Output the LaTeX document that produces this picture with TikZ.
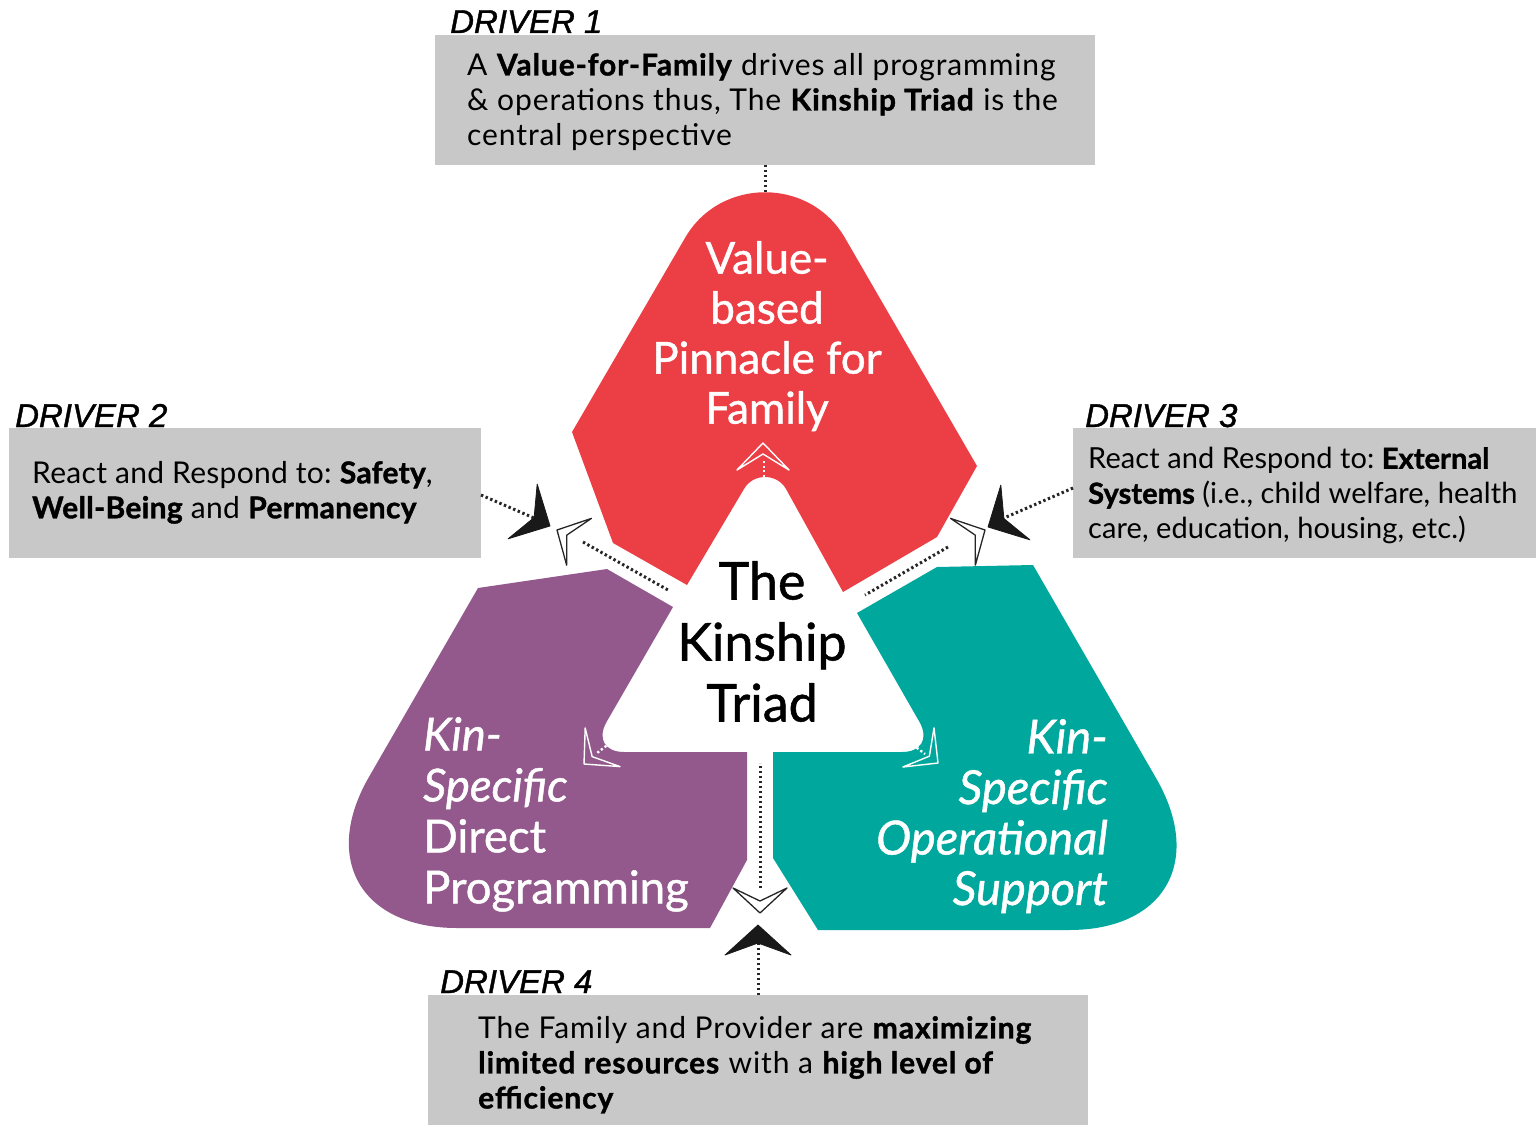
\documentclass[tikz,border=0pt]{standalone}
\usepackage{fontspec}
\setmainfont{Lato}[LetterSpace=3,BoldFeatures={FakeBold=1.3}]
\newfontfamily\drvfont{Liberation Sans}[FakeBold=1.2]
\newfontfamily\medfont{Lato}[FakeBold=1.0]
\usetikzlibrary{calc}
\definecolor{boxgray}{HTML}{C8C8C8}
\definecolor{tred}{HTML}{EC3F45}
\definecolor{tpurple}{HTML}{93598D}
\definecolor{tteal}{HTML}{00A79D}
\newcommand{\chevron}[6]{%
  \draw[#6] (#1) -- ($(#1)+(#2+180:#3)+(#2+90:#4)$) -- ($(#1)+(#2+180:#5)$)
    -- ($(#1)+(#2+180:#3)+(#2-90:#4)$) -- cycle;}
\begin{document}
\frenchspacing
\begin{tikzpicture}[x=1pt,y=-1pt,
  graybox/.style={fill=boxgray,draw=none,anchor=north west,inner sep=0pt},
  boxtext/.style={anchor=north west,align=left,inner sep=0pt,font=\fontsize{30}{35}\selectfont},
  drv/.style={anchor=base west,inner sep=0pt,font=\drvfont\itshape\fontsize{33}{33}\selectfont},
  shapetext/.style={inner sep=0pt,text=white,font=\medfont\fontsize{44}{50}\selectfont},
  dots/.style={line width=3pt,dash pattern=on 2.4pt off 2.6pt,black!85},
  wdots/.style={line width=2.4pt,dash pattern=on 2.2pt off 2.4pt,white},
  blackchev/.style={fill=black!90,draw=black!90,line width=0.8pt,line join=round},
  outchev/.style={fill=white,draw=black!85,line width=1.3pt,line join=round},
  whitechev/.style={draw=white,line width=1.4pt,line join=round}
]
\useasboundingbox (0,0) rectangle (1536,1124);
% --- three shapes ---
\fill[tred] (572,432) -- (613,543) -- (687,585) -- (744,489)
  .. controls (753,473) and (777,473) .. (786,489) -- (843,592) -- (937,537)
  -- (977,466) -- (845,238) .. controls (810,177) and (720,177) .. (685,238) -- cycle;
\fill[tpurple] (478,588) -- (607,569) -- (673,607) -- (606.5,722)
  .. controls (597,739) and (605,752) .. (624,752) -- (747,752) -- (747,860)
  -- (710,928) -- (457,928) .. controls (361,928) and (321,859) .. (369.5,776) -- cycle;
\fill[tteal] (857,613) -- (937,567) -- (1033,565) -- (1156,778)
  .. controls (1204,861) and (1165,930) .. (1069,930) -- (818,930) -- (773,858)
  -- (773,752) -- (902,752) .. controls (921,752) and (929,739) .. (919.5,722) -- cycle;
% --- shape texts ---
\node[shapetext,align=center,anchor=north] (redtxt) at (767,241) {Value-\\based\\Pinnacle for\\Family};
\node[shapetext,align=left,anchor=north west,font=\medfont\fontsize{45.5}{51}\selectfont] (purtxt) at (423,717) {\itshape Kin-\\\itshape Specific\\Direct\\Programming};
\node[shapetext,align=right,anchor=north east,font=\medfont\fontsize{47}{50.5}\selectfont] (teatxt) at (1108,719) {\itshape Kin-\\\itshape Specific\\\itshape Operational\\\itshape Support};
\node[inner sep=0pt,align=center,anchor=north,font=\medfont\fontsize{52}{61}\selectfont] (triad) at (762,561) {The\\Kinship\\Triad};
% --- driver boxes ---
\node[graybox,minimum width=660pt,minimum height=130pt] (b1) at (435,35) {};
\node[graybox,minimum width=472pt,minimum height=130pt] (b2) at (9,428) {};
\node[graybox,minimum width=463pt,minimum height=130pt] (b3) at (1073,428) {};
\node[graybox,minimum width=660pt,minimum height=130pt] (b4) at (428,995) {};
\node[drv] (d1) at (450,33) {DRIVER 1};
\node[drv] (d2) at (15,427) {DRIVER 2};
\node[drv] (d3) at (1085,427) {DRIVER 3};
\node[drv] (d4) at (440,993) {DRIVER 4};
\node[boxtext] (t1) at (467,53) {A \textbf{Value-for-Family} drives all programming\\\& operations thus, The \textbf{Kinship Triad} is the\\central perspective};
\node[boxtext,font=\fontsize{30}{35}\selectfont\addfontfeature{LetterSpace=1}] (t2) at (32,461) {React and Respond to: \textbf{Safety},\\\textbf{Well-Being} and \textbf{Permanency}};
\node[boxtext,font=\fontsize{29}{35}\selectfont\addfontfeature{LetterSpace=0.3}] (t3) at (1088,447) {React and Respond to: \textbf{External}\\\textbf{Systems} (i.e., child welfare, health\\care, education, housing, etc.)};
\node[boxtext] (t4) at (478,1016) {The Family and Provider are \textbf{maximizing}\\\textbf{limited resources} with a \textbf{high level of}\\\textbf{efficiency}};
% --- coordinates for connectors ---
\coordinate (redtop) at (765,192);
\coordinate (b1s) at (765,165);
\coordinate (b2e) at (481,495);
\coordinate (k2in) at (534,518);
\coordinate (k2out) at (583,542);
\coordinate (c2) at (668,590);
\coordinate (b3w) at (1073,488);
\coordinate (k3in) at (1004,518);
\coordinate (k3out) at (948,547);
\coordinate (c3) at (865,595);
\coordinate (b4n) at (758,995);
\coordinate (k4in) at (758,943);
\coordinate (k4out) at (760,888);
\coordinate (c4) at (760,763);
% --- dotted connectors ---
\draw[dots] (b1s) -- (redtop);
\draw[dots] (b2e) -- (k2in);
\draw[dots] (k2out) -- (c2);
\draw[dots] (b3w) -- (k3in);
\draw[dots] (k3out) -- (c3);
\draw[dots] (b4n) -- (k4in);
\draw[dots] (k4out) -- (c4);
% --- chevrons ---
\chevron{550,526}{28}{31}{31}{18}{blackchev}
\chevron{988,527}{152}{31}{31}{18}{blackchev}
\chevron{758,925}{-90}{30}{33}{18}{blackchev}
\chevron{557,530}{208}{25}{26.5}{11}{outchev}
\chevron{985,530}{-28}{25}{26.5}{11}{outchev}
\chevron{760,913}{90}{25}{27}{12}{outchev}
% white chevrons inside shapes
\coordinate (rin) at (764,477);
\coordinate (rch) at (764,460);
\draw[wdots] (rin) -- (rch);
\chevron{763,443}{-90}{27}{26}{11}{whitechev}
\coordinate (pin) at (610,743);
\coordinate (pch) at (597,753);
\draw[wdots] (pin) -- (pch);
\chevron{584,764}{138}{25}{26}{11}{whitechev}
\coordinate (tin) at (913,745);
\coordinate (tch) at (925,754);
\draw[wdots] (tin) -- (tch);
\chevron{938,763}{38.5}{25}{25}{11}{whitechev}
\end{tikzpicture}
\end{document}
